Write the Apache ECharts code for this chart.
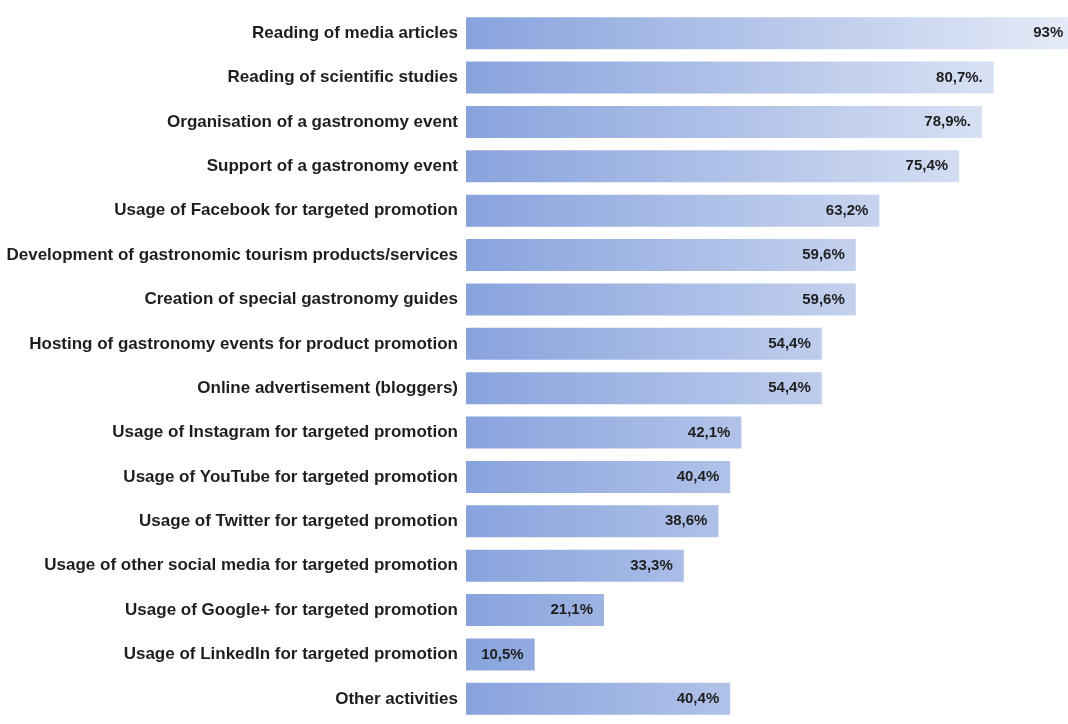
<!DOCTYPE html>
<html>
<head>
<meta charset="utf-8">
<script src="https://cdn.jsdelivr.net/npm/echarts@6/dist/echarts.min.js"></script>
<style>
html,body{margin:0;padding:0;background:#fff;}
#chart{width:1068px;height:724px;}
</style>
</head>
<body>
<div id="chart"></div>
<script>
const categories = [
  "Reading of media articles",
  "Reading of scientific studies",
  "Organisation of a gastronomy event",
  "Support of a gastronomy event",
  "Usage of Facebook for targeted promotion",
  "Development of gastronomic tourism products/services",
  "Creation of special gastronomy guides",
  "Hosting of gastronomy events for product promotion",
  "Online advertisement (bloggers)",
  "Usage of Instagram for targeted promotion",
  "Usage of YouTube for targeted promotion",
  "Usage of Twitter for targeted promotion",
  "Usage of other social media for targeted promotion",
  "Usage of Google+ for targeted promotion",
  "Usage of LinkedIn for targeted promotion",
  "Other activities"
];
const values = [93, 80.7, 78.9, 75.4, 63.2, 59.6, 59.6, 54.4, 54.4, 42.1, 40.4, 38.6, 33.3, 21.1, 10.5, 40.4];
const valueLabels = ["93%", "80,7%.", "78,9%.", "75,4%", "63,2%", "59,6%", "59,6%", "54,4%", "54,4%", "42,1%", "40,4%", "38,6%", "33,3%", "21,1%", "10,5%", "40,4%"];

const FONT = '"Liberation Sans", Arial, sans-serif';
const chart = echarts.init(document.getElementById('chart'));
chart.setOption({
  animation: false,
  grid: { left: 466, top: 11, right: 0, bottom: 3, containLabel: false },
  xAxis: {
    type: 'value', min: 0, max: 92.05,
    show: false
  },
  yAxis: {
    type: 'category',
    inverse: true,
    data: categories,
    axisLine: { show: false },
    axisTick: { show: false },
    axisLabel: {
      margin: 8,
      color: '#1e1e1e',
      fontFamily: FONT,
      fontWeight: 'bold',
      fontSize: 17
    }
  },
  series: [{
    type: 'bar',
    data: values,
    clip: false,
    barCategoryGap: '28%',
    itemStyle: {
      color: {
        type: 'linear', x: 466, y: 0, x2: 1068, y2: 0, global: true,
        colorStops: [
          { offset: 0, color: '#88a3dd' },
          { offset: 1, color: '#e4eaf7' }
        ]
      }
    },
    label: {
      show: true,
      position: 'insideRight',
      distance: 11,
      color: '#1e1e1e',
      fontFamily: FONT,
      fontWeight: 'bold',
      fontSize: 15,
      formatter: p => valueLabels[p.dataIndex]
    }
  }]
});
</script>
</body>
</html>
